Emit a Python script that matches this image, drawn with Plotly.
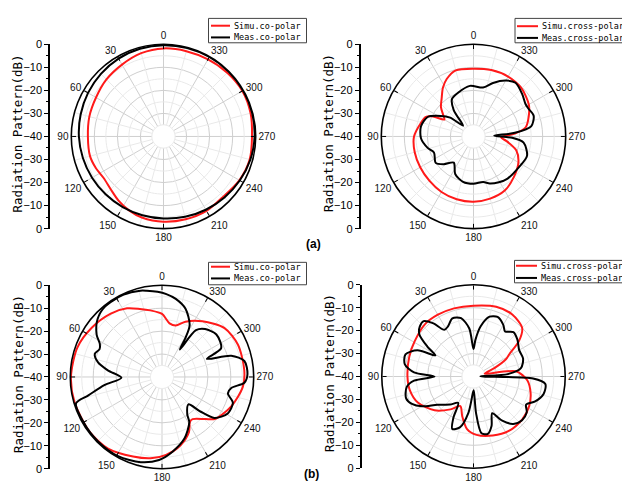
import plotly.graph_objects as go

# ---------------- data (angle in degrees, level in dB) ----------------
# (a) co-polar
a_co_sim_theta = [0, 15, 30, 45, 60, 75, 90, 105, 115, 125, 135, 145, 155, 165, 180, 195, 210, 225, 240, 255, 270, 285, 300, 315, 330, 345]
a_co_sim_db = [-1.8, -2.6, -4.0, -5.0, -6.2, -6.7, -7.2, -7.0, -7.6, -8.4, -7.6, -6.0, -4.6, -3.6, -3.0, -2.8, -2.7, -3.2, -2.0, -1.3, -1.6, -0.9, -0.5, -0.9, -1.4, -1.7]
a_co_meas_theta = [0, 15, 30, 45, 60, 75, 90, 105, 120, 135, 150, 165, 180, 195, 210, 225, 240, 255, 270, 285, 300, 315, 330, 345]
a_co_meas_db = [-0.4, -0.6, -1.0, -1.6, -2.2, -2.8, -3.3, -3.8, -4.2, -4.5, -4.6, -4.6, -4.4, -3.9, -3.3, -2.6, -1.8, -1.0, -0.5, -0.2, -0.1, -0.1, -0.2, -0.3]

# (a) cross-polar
a_x_sim_theta = [0, 15, 25, 32, 40, 48, 55, 60, 64, 68, 75, 90, 105, 120, 135, 150, 165, 180, 195, 210, 225, 240, 252, 262, 268, 274, 280, 290, 300, 315, 330, 345]
a_x_sim_db = [-10.6, -10.3, -12.5, -15.0, -18.5, -21.0, -24.0, -25.4, -20.0, -17.5, -16.5, -14.2, -13.6, -13.3, -12.9, -12.2, -11.8, -11.7, -12.1, -12.9, -15.2, -17.5, -20.5, -25.5, -28.0, -22.0, -17.0, -14.5, -12.3, -10.5, -10.0, -10.2]
a_x_meas_theta = [4, 19, 30, 37, 44, 51, 58, 67, 79, 92, 104, 112, 125, 133, 143, 154, 167, 180, 192, 199, 209, 219, 236, 250, 263, 268, 272, 275, 280, 289, 297, 302, 311, 322, 330, 340, 349]
a_x_meas_db = [-18.0, -19.8, -21.3, -25.8, -33.5, -27.0, -23.2, -18.4, -16.8, -17.2, -19.5, -21.5, -20.0, -22.4, -25.8, -21.9, -19.8, -19.5, -19.8, -18.4, -17.3, -16.5, -16.2, -15.3, -18.1, -23.2, -31.0, -22.0, -14.6, -12.4, -13.3, -13.4, -12.0, -10.4, -12.0, -15.3, -18.4]

# (b) co-polar
b_co_sim_theta = [0, 10, 18, 27, 39, 55, 71, 90, 106, 127, 143, 160, 172, 183, 195, 206, 212, 216, 226, 232, 247, 263, 275, 293, 308, 324, 337, 345, 352]
b_co_sim_db = [-12.5, -10.5, -8.8, -6.4, -4.5, -2.6, -0.9, -0.3, -0.3, -0.4, -0.9, -3.1, -4.2, -6.0, -9.1, -13.2, -17.0, -17.3, -13.6, -10.4, -7.2, -4.5, -4.0, -4.0, -5.4, -10.0, -13.8, -16.8, -16.4]
b_co_meas_theta = [3, 10, 14, 25, 39, 48, 57, 62, 66, 71, 77, 83, 91, 98, 104, 107, 120, 135, 151, 166, 178, 188, 200, 211, 214, 224, 228, 232, 241, 250, 256, 261, 266, 272, 281, 287, 292, 296, 308, 318, 324, 327, 329, 332, 341, 350, 357]
b_co_meas_db = [-2.8, -1.8, -1.2, -0.4, -0.5, -2.2, -6.0, -9.3, -10.2, -9.0, -11.3, -16.2, -22.3, -14.6, -6.9, -0.8, -0.5, -0.4, -0.5, -1.7, -3.8, -7.1, -11.4, -16.9, -20.3, -23.4, -17.5, -11.0, -7.2, -7.1, -10.4, -9.4, -4.0, -2.7, -3.4, -8.4, -18.9, -11.3, -9.9, -11.9, -14.8, -25.7, -20.1, -14.3, -8.5, -5.4, -3.8]

# (b) cross-polar
b_x_sim_theta = [0, 16, 30, 43, 59, 73, 90, 102, 115, 131, 145, 156, 164, 173, 183, 198, 213, 229, 242, 254, 266, 277, 284, 292, 298, 302, 308, 315, 328, 342]
b_x_sim_db = [-9.1, -9.1, -8.9, -8.9, -10.1, -10.7, -11.2, -11.6, -13.2, -17.5, -22.5, -25.9, -22.1, -16.9, -14.5, -12.9, -11.7, -11.7, -12.5, -14.1, -16.5, -21.3, -35.0, -30.0, -24.0, -21.5, -14.8, -10.0, -8.1, -8.0]
b_x_meas_theta = [0, 5, 12, 20, 27, 32, 37, 42, 47, 52, 57, 61, 65, 72, 80, 86, 90, 94, 99, 108, 114, 120, 128, 140, 150, 154, 158, 165, 172, 178, 181, 184, 188, 194, 200, 207, 213, 220, 228, 236, 242, 248, 256, 264, 268, 271, 274, 280, 290, 300, 310, 318, 325, 330, 338, 345, 352, 357]
b_x_meas_db = [-28.0, -19.0, -14.0, -13.0, -15.5, -16.0, -11.0, -7.5, -8.0, -10.0, -16.0, -21.0, -13.0, -8.8, -9.6, -14.0, -23.0, -14.0, -10.5, -9.1, -10.6, -14.0, -20.0, -24.0, -26.7, -20.0, -15.3, -17.0, -24.0, -33.0, -34.0, -24.0, -15.0, -14.2, -17.0, -22.0, -17.0, -13.0, -11.5, -12.0, -14.0, -11.0, -8.5, -8.5, -14.0, -37.0, -25.0, -19.0, -17.0, -17.0, -15.0, -14.0, -16.0, -14.0, -12.0, -13.0, -18.0, -24.0]

angle_ticks = list(range(0, 360, 30))
angle_labels = [str(a) for a in angle_ticks]
axis_tickvals = [0, 10, 20, 30, 40, 50, 60, 70, 80]
axis_ticktext = ["0", "−10", "−20", "−30", "−40", "−30", "−20", "−10", "0"]

# ---------------- layout helpers ----------------
# the page body adds an 8px margin, so the figure is drawn 8px in from the window edge
OFF = 8
W, H = 630 - OFF, 503 - OFF
def px(x):
    return (x - OFF) / W
def py(y):
    return 1 - (y - OFF) / H

RED = "#ff1a1a"
BLACK = "#000000"
MAJ = "#cfcfcf"
MIN = "#e9e9e9"
NARROW = "Liberation Sans Narrow, Arial Narrow, Liberation Sans, Arial"
MONO = "DejaVu Sans Mono, Liberation Mono, monospace"

panels = [
    dict(cx=163.5, cy=133.5, R=94.5, ax=49, sim=(a_co_sim_theta, a_co_sim_db), meas=(a_co_meas_theta, a_co_meas_db),
         names=("Simu.co-polar", "Meas.co-polar"), box=(208.5, 12.5, 306.5, 37.5), line=(211, 230), text=232, rows=(20, 32)),
    dict(cx=473.5, cy=133.5, R=94.5, ax=359.5, sim=(a_x_sim_theta, a_x_sim_db), meas=(a_x_meas_theta, a_x_meas_db),
         names=("Simu.cross-polar", "Meas.cross-polar"), box=(515, 12.5, 628.5, 37.5), line=(517, 538), text=540, rows=(20.5, 32.5)),
    dict(cx=162, cy=380, R=94, ax=49, sim=(b_co_sim_theta, b_co_sim_db), meas=(b_co_meas_theta, b_co_meas_db),
         names=("Simu.co-polar", "Meas.co-polar"), box=(208.5, 262.5, 306.5, 285.5), line=(211, 230), text=232, rows=(267, 279)),
    dict(cx=473.5, cy=379.5, R=94, ax=360.5, sim=(b_x_sim_theta, b_x_sim_db), meas=(b_x_meas_theta, b_x_meas_db),
         names=("Simu.cross-polar", "Meas.cross-polar"), box=(514.5, 260.5, 628.5, 283.5), line=(516, 537), text=539, rows=(266, 278.5)),
]

fig = go.Figure()
layout = dict(width=W, height=H, margin=dict(l=0, r=0, t=0, b=0), paper_bgcolor="white",
              plot_bgcolor="white", showlegend=False)
shapes = []
annotations = []

full = list(range(0, 361, 3))

for i, p in enumerate(panels):
    k = "" if i == 0 else str(i + 1)
    sub = "polar" + k
    cx, cy, R = p["cx"], p["cy"], p["R"]
    layout[sub] = dict(
        domain=dict(x=[px(cx - R), px(cx + R)], y=[py(cy + R), py(cy - R)]),
        bgcolor="white",
        radialaxis=dict(range=[-40, 0], tickvals=[-30, -20, -10], showticklabels=False, ticks="",
                        showline=False, gridcolor=MAJ, gridwidth=1, angle=90),
        angularaxis=dict(rotation=90, direction="counterclockwise", tickvals=angle_ticks, ticktext=angle_labels,
                         ticks="inside", ticklen=4, tickwidth=1, tickcolor="black",
                         showline=True, linecolor="black", linewidth=1.6, gridcolor=MAJ, gridwidth=1,
                         tickfont=dict(family=NARROW, size=10, color="#111")),
    )
    # minor grid: rings and spokes
    for rr in (-35, -25, -15, -5):
        fig.add_trace(go.Scatterpolar(r=[rr] * len(full), theta=full, mode="lines", subplot=sub,
                                      line=dict(color=MIN, width=1), hoverinfo="skip", showlegend=False))
    sp_r, sp_t = [], []
    for a in range(15, 360, 30):
        sp_r += [-35, 0, None]
        sp_t += [a, a, None]
    fig.add_trace(go.Scatterpolar(r=sp_r, theta=sp_t, mode="lines", subplot=sub,
                                  line=dict(color=MIN, width=1), hoverinfo="skip", showlegend=False))
    # blank centre disc
    fig.add_trace(go.Scatterpolar(r=[-35] * len(full), theta=full, mode="lines", fill="toself", fillcolor="white",
                                  subplot=sub, line=dict(color=MIN, width=1), hoverinfo="skip", showlegend=False))
    # data
    for (th, db), col, nm in ((p["sim"], RED, p["names"][0]), (p["meas"], BLACK, p["names"][1])):
        fig.add_trace(go.Scatterpolar(r=list(db) + [db[0]], theta=list(th) + [th[0]], mode="lines", subplot=sub,
                                      name=nm, line=dict(color=col, width=2, shape="spline", smoothing=0.8)))

    # left dB axis (an empty cartesian trace makes the axis pair render)
    xa = "xaxis" + k
    ya = "yaxis" + k
    fig.add_trace(go.Scatter(x=[], y=[], xaxis="x" + k, yaxis="y" + k, hoverinfo="skip", showlegend=False))
    layout[xa] = dict(domain=[px(p["ax"]), px(p["ax"] + 2)], visible=False, anchor="y" + k, range=[0, 1])
    layout[ya] = dict(domain=[py(cy + R), py(cy - R)], range=[0, 80], anchor="free", position=px(p["ax"]),
                      tickvals=axis_tickvals, ticktext=axis_ticktext, ticks="outside", ticklen=4, tickwidth=1.2,
                      tickcolor="black", showline=True, linecolor="black", linewidth=1.5, showgrid=False,
                      zeroline=False, tickfont=dict(family=NARROW, size=11, color="black"),
                      minor=dict(dtick=5, ticks="outside", ticklen=2, tickcolor="black", tickwidth=1))
    annotations.append(dict(x=px(p["ax"] - 31), y=py(cy - 3), xref="paper", yref="paper", text="Radiation Pattern(dB)",
                            textangle=-90, showarrow=False, font=dict(family=MONO, size=12.5, color="black"),
                            xanchor="center", yanchor="middle"))

    # legend box
    x0, y0, x1, y1 = p["box"]
    shapes.append(dict(type="rect", xref="paper", yref="paper", x0=px(x0), x1=px(x1), y0=py(y1), y1=py(y0),
                       line=dict(color="#444", width=1), fillcolor="white", layer="above"))
    for row, col, nm in zip(p["rows"], (RED, BLACK), p["names"]):
        shapes.append(dict(type="line", xref="paper", yref="paper", x0=px(p["line"][0]), x1=px(p["line"][1]),
                           y0=py(row), y1=py(row), line=dict(color=col, width=2), layer="above"))
        annotations.append(dict(x=px(p["text"]), y=py(row), xref="paper", yref="paper", text=nm, showarrow=False,
                                xanchor="left", yanchor="middle", font=dict(family=MONO, size=8.5, color="black")))

annotations.append(dict(x=px(313), y=py(244), xref="paper", yref="paper", text="<b>(a)</b>", showarrow=False,
                        font=dict(family="Liberation Sans, Arial", size=12, color="black")))
annotations.append(dict(x=px(311), y=py(489), xref="paper", yref="paper", text="<b>(b)</b>", showarrow=False,
                        font=dict(family="Liberation Sans, Arial", size=12, color="black")))

layout["shapes"] = shapes
layout["annotations"] = annotations
fig.update_layout(**layout)
fig.write_html("out.html")
